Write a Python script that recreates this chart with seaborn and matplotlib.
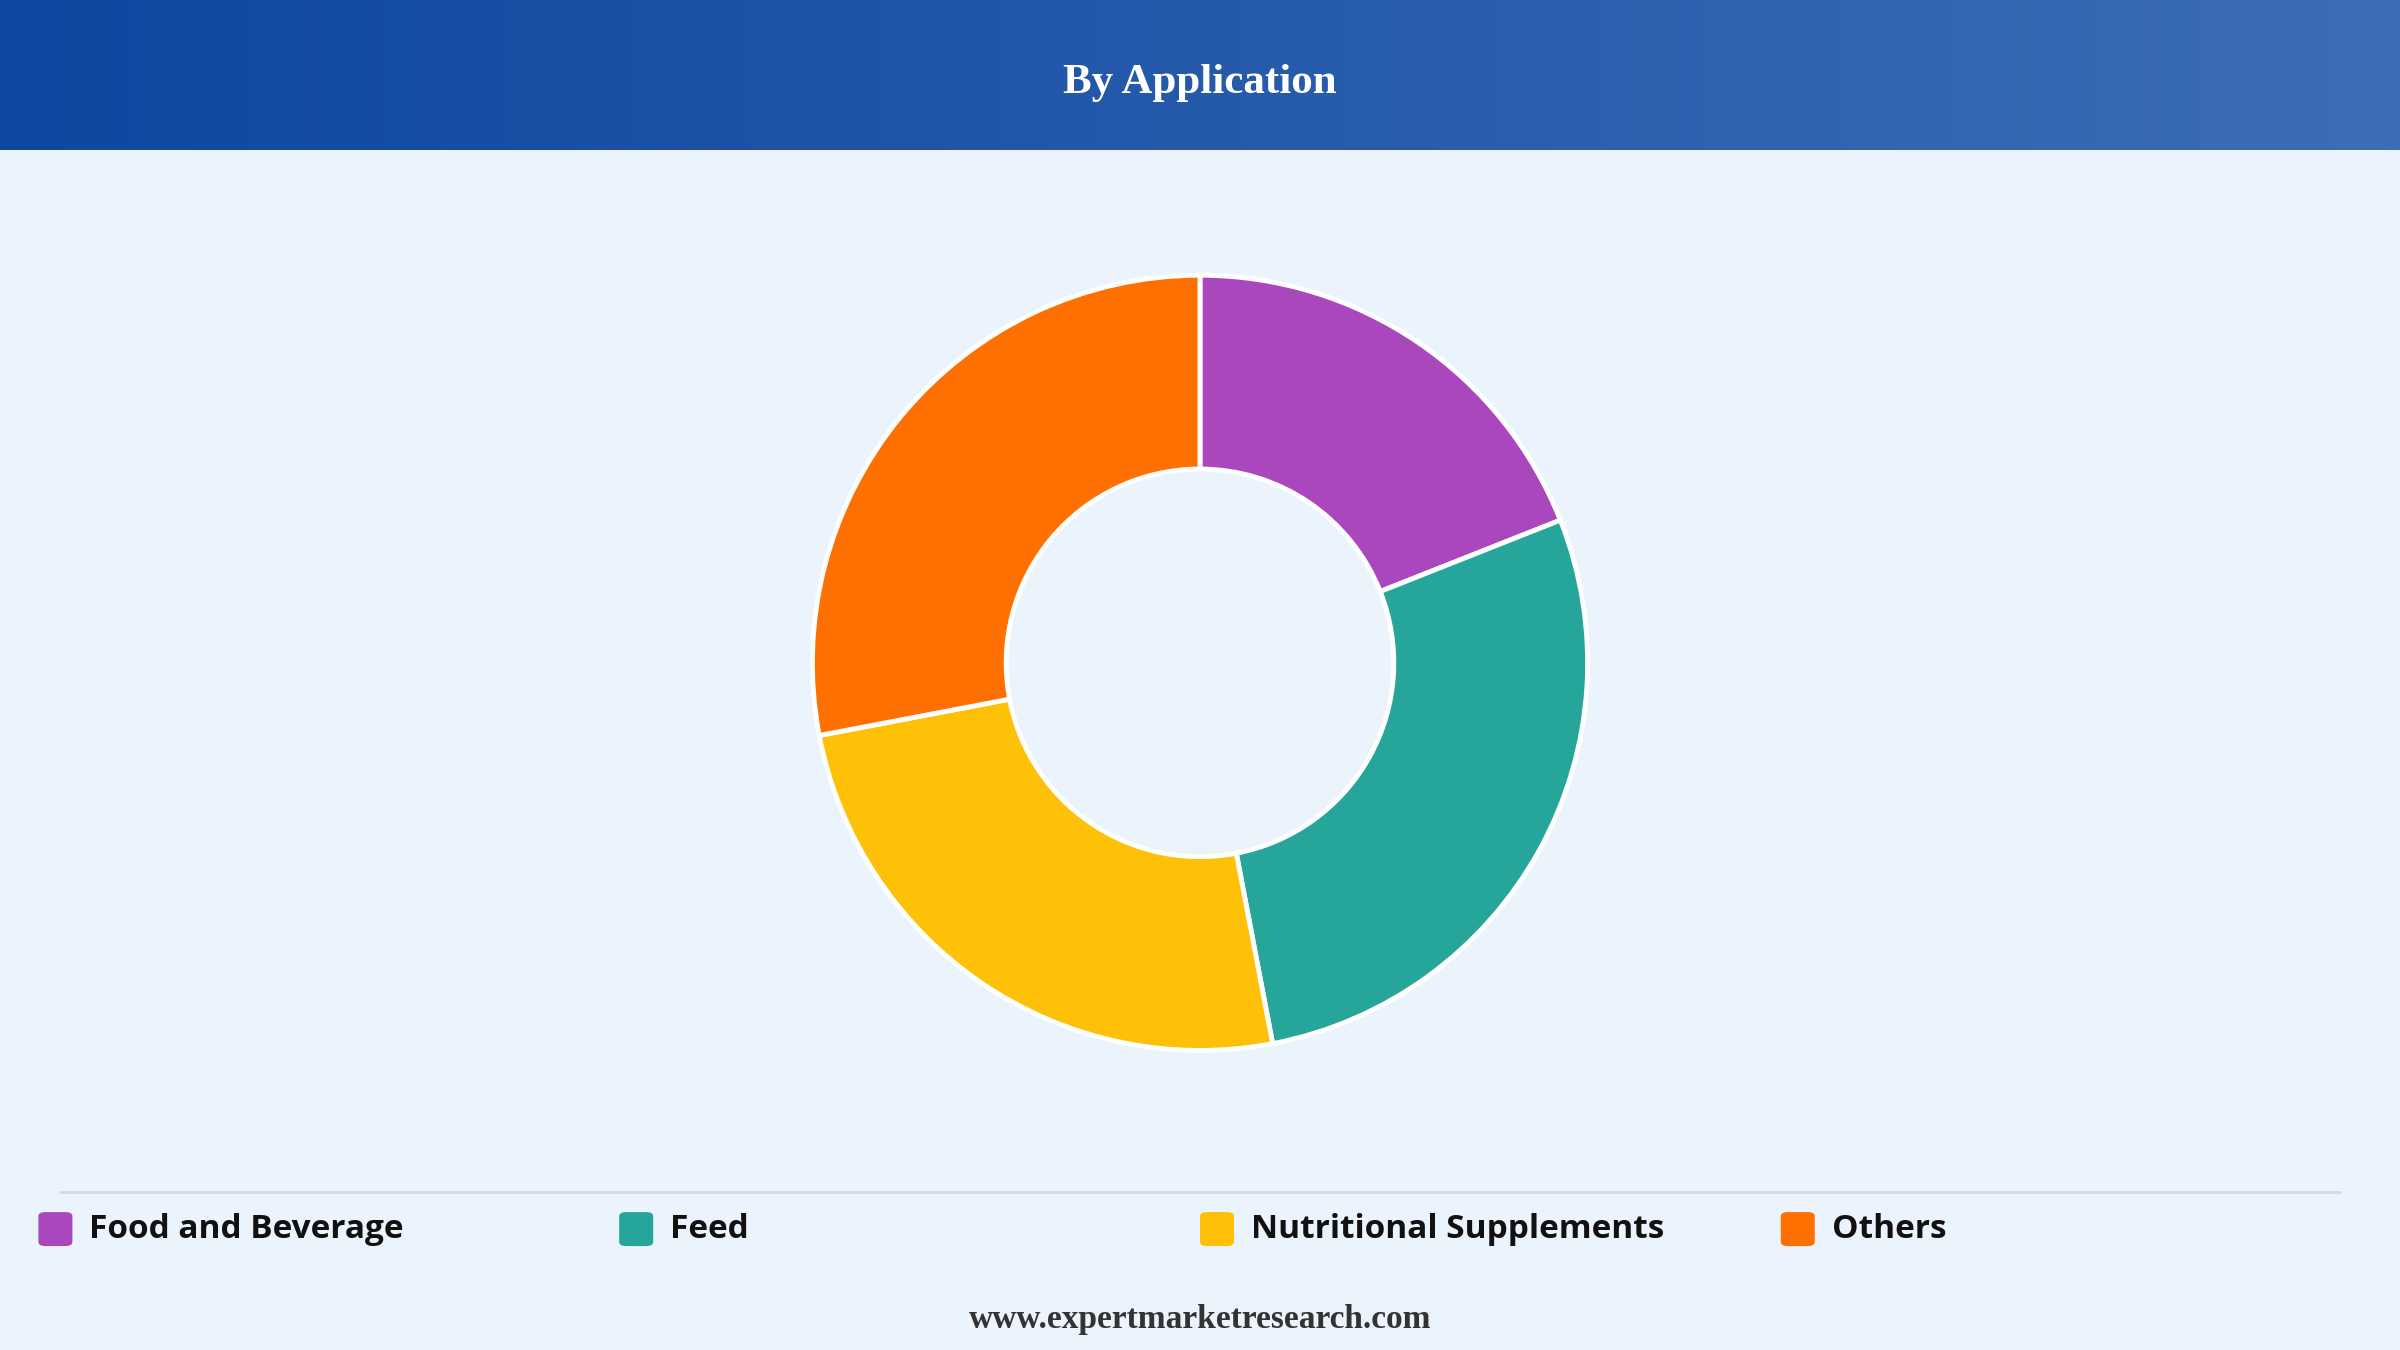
import numpy as np
import matplotlib
matplotlib.use("Agg")
import matplotlib.pyplot as plt
import seaborn as sns
from matplotlib.patches import FancyBboxPatch

labels = ["Food and Beverage", "Feed", "Nutritional Supplements", "Others"]
shares = [19, 28, 25, 28]
colors = ["#AB47BC", "#26A69A", "#FFC107", "#FF7000"]

sns.set_theme(style="white")
bg = "#EBF3FC"

fig = plt.figure(figsize=(24, 13.5), dpi=100, facecolor=bg)

# header band with horizontal gradient
hdr = fig.add_axes([0, 1 - 150 / 1350, 1, 150 / 1350])
grad = np.linspace(0, 1, 256).reshape(1, -1)
cmap = matplotlib.colors.LinearSegmentedColormap.from_list("hdr", ["#0D47A1", "#3D6DB5"])
hdr.imshow(grad, aspect="auto", cmap=cmap, extent=[0, 1, 0, 1])
hdr.set_axis_off()
hdr.text(0.5, 0.45, "By Application", color="white", fontsize=31, fontweight="bold",
         family="Liberation Serif", ha="center", va="center")

# donut
h = 0.58
w = h * 1350 / 2400
ax = fig.add_axes([0.5 - w / 2, 0.509 - h / 2, w, h])
ax.pie(shares, colors=colors, startangle=90, counterclock=False, radius=1,
       wedgeprops=dict(width=0.5, edgecolor="white", linewidth=3.5))
ax.set_xlim(-1.01, 1.01)
ax.set_ylim(-1.01, 1.01)
ax.set_aspect("equal")
ax.set_axis_off()

# separator line
fig.add_artist(plt.Line2D([0.025, 0.975], [1 - 779 / 882] * 2, color="#D5D9DE", lw=2))

# legend
ly = 1 - 803 / 882
xs = [0.016, 0.258, 0.5, 0.742]
sq_w = 34 / 2400
sq_h = 34 / 1350
for x, lab, c in zip(xs, labels, colors):
    fig.add_artist(FancyBboxPatch((x, ly - sq_h / 2), sq_w, sq_h,
                                  boxstyle="round,pad=0,rounding_size=0.003",
                                  transform=fig.transFigure, color=c, ec="none"))
    fig.text(x + sq_w + 0.007, ly, lab, fontsize=24, fontweight="bold",
             family="Open Sans", color="#111111", va="center", ha="left")

fig.text(0.5, 1 - 862 / 882, "www.expertmarketresearch.com", fontsize=24,
         fontweight="bold", family="Liberation Serif", color="#333333",
         ha="center", va="center")

fig.savefig("out.png", dpi=100, facecolor=bg)
